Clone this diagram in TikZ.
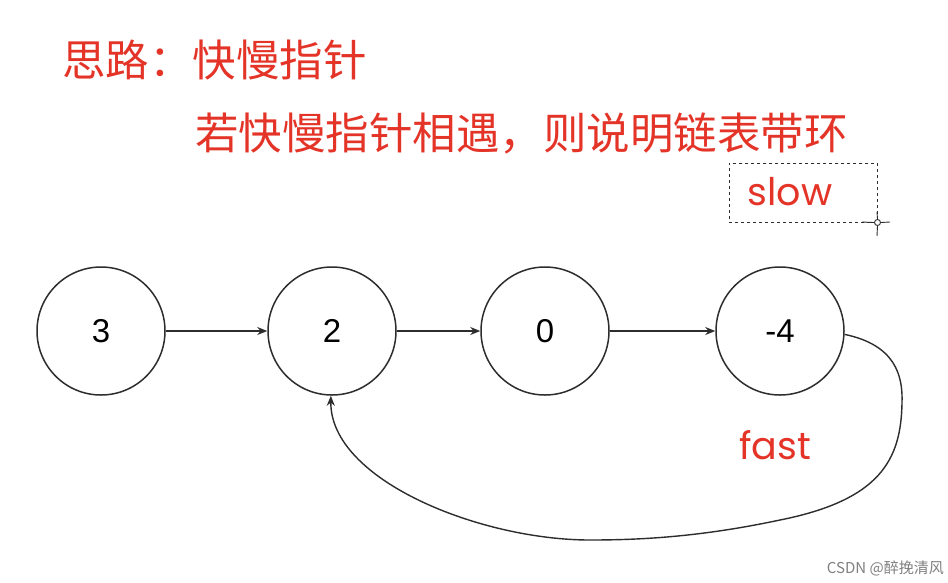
\documentclass[tikz,border=0pt]{standalone}
\usepackage{fontspec}
\setmainfont{Liberation Sans}
\newfontfamily\cjk{Noto Sans CJK SC}
\newfontfamily\geo{Poppins}
\usetikzlibrary{arrows.meta}
\definecolor{redtxt}{RGB}{228,52,40}
\definecolor{linegray}{RGB}{45,45,45}
\begin{document}
\begin{tikzpicture}[x=1pt,y=-1pt,
  listnode/.style={circle,draw=linegray,line width=1.5pt,minimum size=128pt,inner sep=0pt,font=\fontsize{33}{36}\selectfont},
  link/.style={draw=linegray,line width=1.4pt,-{Stealth[length=10pt,width=8pt]}},
  title/.style={text=redtxt,font=\cjk\fontsize{43.5}{48}\selectfont,anchor=west,inner sep=0pt},
  tag/.style={text=redtxt,font=\geo\fontsize{38}{44}\selectfont,inner sep=0pt}]
\useasboundingbox (0,0) rectangle (948,582);
\fill[white] (0,0) rectangle (948,582);
\node[title] (t1) at (62,60) {思路：快慢指针};
\node[title] (t2) at (195,133) {若快慢指针相遇，则说明链表带环};
\node[listnode] (n3) at (101,331) {3};
\node[listnode] (n2) at (332,331) {2};
\node[listnode] (n0) at (545,331) {0};
\node[listnode] (n4) at (780,331) {-4};
\draw[link] (n3) -- (n2);
\draw[link] (n2) -- (n0);
\draw[link] (n0) -- (n4);
\coordinate (c1) at (902,403);
\coordinate (c2) at (780,520);
\coordinate (c3) at (590,540);
\draw[link] (n4.-3) .. controls (895,345) and (903,375) .. (c1)
  .. controls (901,460) and (880,500) .. (c2)
  .. controls (700,537) and (640,540) .. (c3)
  .. controls (480,540) and (330,480) .. (n2.-91);
\node[draw=linegray,dashed,line width=1pt,minimum width=148pt,minimum height=59pt,inner sep=0pt] (box) at (803,192.5) {};
\node[tag] (slow) at (790,192) {slow};
\node[tag] (fast) at (775,445) {fast};
\node[circle,draw=linegray,line width=0.9pt,minimum size=6pt,inner sep=0pt,fill=white] (mk) at (box.south east) {};
\draw[linegray,line width=0.9pt] (862,222) -- (mk.west) (mk.east) -- (890,222) (877,212) -- (mk.north) (mk.south) -- (877,236);
\node[text=gray,font=\cjk\fontsize{15}{18}\selectfont,anchor=east,inner sep=0pt] (wm) at (944,568) {CSDN @醉挽清风};
\end{tikzpicture}
\end{document}
